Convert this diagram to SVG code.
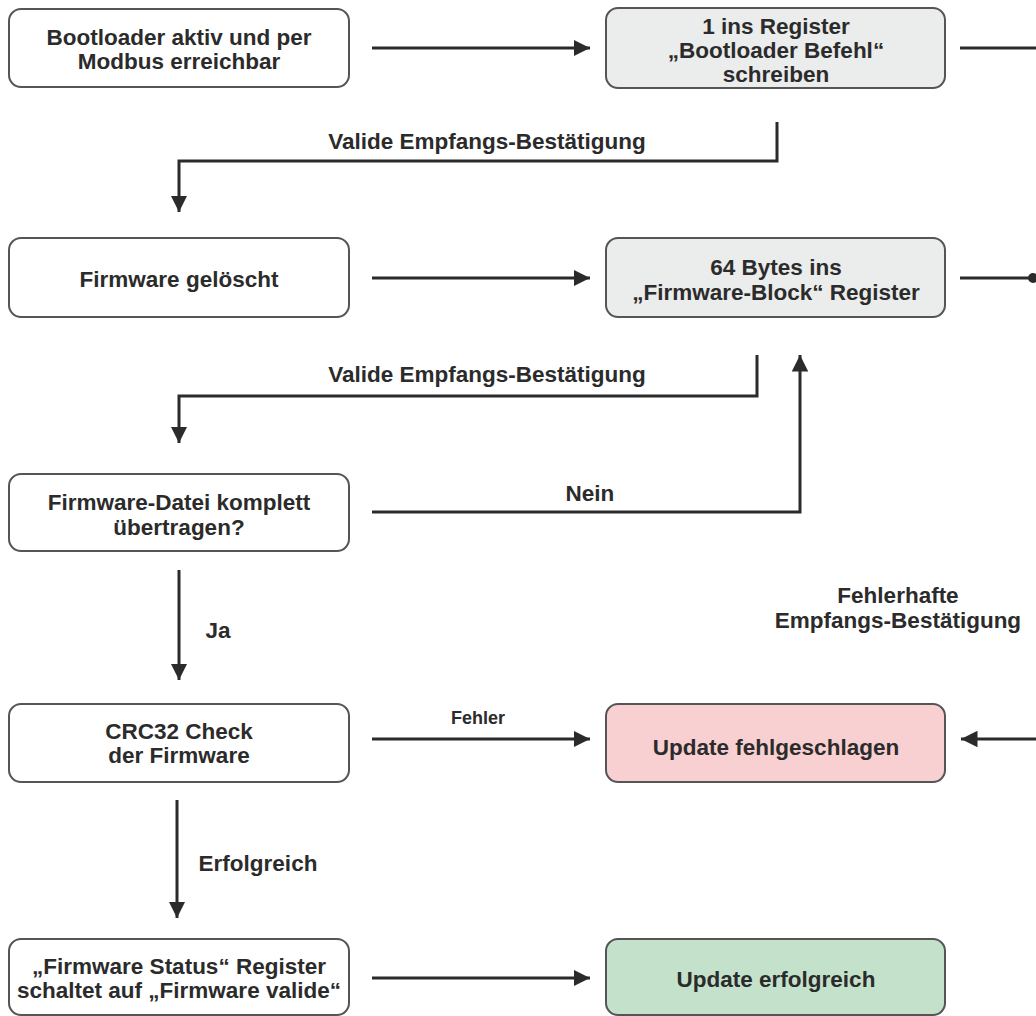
<svg xmlns="http://www.w3.org/2000/svg" width="1036" height="1016" viewBox="0 0 1036 1016">
<style>
.box{stroke:#555;stroke-width:2;fill:#fff}
.gray{fill:#ebecec}
.red{fill:#f8d0d1}
.green{fill:#c4e2cb}
text{font-family:"Liberation Sans",Arial,sans-serif;font-weight:bold;font-size:22.5px;fill:#2b2b2b;text-anchor:middle}
.sm{font-size:18px}
.ln{stroke:#2b2b2b;stroke-width:3;fill:none}
</style>
<defs>
<marker id="ah" viewBox="0 0 10 10" refX="10" refY="5" markerWidth="5.5" markerHeight="5.5" orient="auto" markerUnits="strokeWidth">
<path d="M0,0 L10,5 L0,10 Z" fill="#2b2b2b"/>
</marker>
</defs>
<rect width="1036" height="1016" fill="#fff"/>
<g id="n1"><rect class="box" x="9" y="9" width="340" height="78" rx="12"/><text x="179" y="45">Bootloader aktiv und per</text><text x="179" y="69">Modbus erreichbar</text></g>
<g id="n2"><rect class="box gray" x="606" y="8" width="339" height="80" rx="12"/><text x="776" y="34">1 ins Register</text><text x="776" y="58">„Bootloader Befehl“</text><text x="776" y="82">schreiben</text></g>
<g id="n3"><rect class="box" x="9" y="238" width="340" height="79" rx="12"/><text x="179" y="287">Firmware gelöscht</text></g>
<g id="n4"><rect class="box gray" x="606" y="238" width="339" height="79" rx="12"/><text x="776" y="275">64 Bytes ins</text><text x="776" y="300">„Firmware-Block“ Register</text></g>
<g id="n5"><rect class="box" x="9" y="474" width="340" height="77" rx="12"/><text x="179" y="510">Firmware-Datei komplett</text><text x="179" y="535">übertragen?</text></g>
<g id="n6"><rect class="box" x="9" y="704" width="340" height="78" rx="12"/><text x="179" y="739">CRC32 Check</text><text x="179" y="763">der Firmware</text></g>
<g id="n7"><rect class="box red" x="606" y="704" width="339" height="78" rx="12"/><text x="776" y="755">Update fehlgeschlagen</text></g>
<g id="n8"><rect class="box" x="9" y="939" width="340" height="76" rx="12"/><text x="179" y="974">„Firmware Status“ Register</text><text x="179" y="998">schaltet auf „Firmware valide“</text></g>
<g id="n9"><rect class="box green" x="606" y="939" width="339" height="76" rx="12"/><text x="776" y="987">Update erfolgreich</text></g>
<g id="connectors">
<path class="ln" d="M372,48 H590" marker-end="url(#ah)"/>
<path class="ln" d="M960,48 H1036"/>
<path class="ln" d="M777,122 V161 H179 V212" marker-end="url(#ah)"/>
<text x="487" y="149">Valide Empfangs-Bestätigung</text>
<path class="ln" d="M372,278 H590" marker-end="url(#ah)"/>
<path class="ln" d="M960,278 H1030"/>
<circle cx="1033" cy="278" r="5" fill="#2b2b2b"/>
<path class="ln" d="M757,355 V396 H179 V443" marker-end="url(#ah)"/>
<text x="487" y="382">Valide Empfangs-Bestätigung</text>
<path class="ln" d="M372,512 H800 V355" marker-end="url(#ah)"/>
<text x="590" y="501">Nein</text>
<path class="ln" d="M179,570 V680" marker-end="url(#ah)"/>
<text x="218" y="638">Ja</text>
<text x="898" y="603">Fehlerhafte</text>
<text x="898" y="628">Empfangs-Bestätigung</text>
<path class="ln" d="M372,739 H590" marker-end="url(#ah)"/>
<text class="sm" x="478" y="724">Fehler</text>
<path class="ln" d="M1036,739 H961" marker-end="url(#ah)"/>
<path class="ln" d="M177,800 V918" marker-end="url(#ah)"/>
<text x="258" y="871">Erfolgreich</text>
<path class="ln" d="M372,978 H590" marker-end="url(#ah)"/>
</g>
</svg>
